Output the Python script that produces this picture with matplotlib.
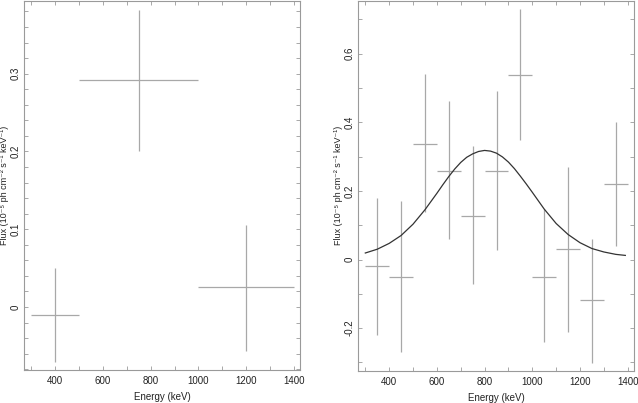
import matplotlib
matplotlib.use("Agg")
import matplotlib.pyplot as plt
from matplotlib.ticker import MultipleLocator, FuncFormatter

plt.rcParams['font.family'] = ['Liberation Sans', 'DejaVu Sans']
plt.rcParams['font.size'] = 7
plt.rcParams['axes.unicode_minus'] = False

# left panel: three wide bins
left_lo = [300, 500, 1000]
left_hi = [500, 1000, 1400]
left_flux = [-0.010, 0.292, 0.026]
left_err_lo = [0.061, 0.091, 0.082]
left_err_hi = [0.060, 0.090, 0.079]

# right panel: 100 keV bins
right_lo = [300, 400, 500, 600, 700, 800, 900, 1000, 1100, 1200, 1300]
right_hi = [400, 500, 600, 700, 800, 900, 1000, 1100, 1200, 1300, 1400]
right_flux = [-0.020, -0.050, 0.338, 0.259, 0.128, 0.259, 0.539, -0.050, 0.030, -0.119, 0.219]
right_err_lo = [0.201, 0.221, 0.200, 0.200, 0.200, 0.230, 0.190, 0.191, 0.240, 0.182, 0.180]
right_err_hi = [0.200, 0.220, 0.202, 0.202, 0.202, 0.232, 0.190, 0.196, 0.240, 0.179, 0.181]

# model curve
model_e = [300, 350, 400, 450, 500, 550, 600, 625, 650, 675, 700, 725, 750, 775, 800,
           825, 850, 875, 900, 925, 950, 975, 1000, 1050, 1100, 1150, 1200, 1250,
           1300, 1350, 1390]
model_f = [0.019, 0.030, 0.047, 0.070, 0.103, 0.145, 0.193, 0.218, 0.242, 0.264, 0.283,
           0.298, 0.308, 0.315, 0.318, 0.316, 0.310, 0.299, 0.284, 0.265, 0.243, 0.220,
           0.196, 0.147, 0.105, 0.073, 0.049, 0.032, 0.022, 0.015, 0.012]

FRAME = '#9a9a9a'
BARS = '#a8a8a8'
TEXT = '#222222'
YLABEL = 'Flux (10⁻⁵ ph cm⁻² s⁻¹ keV⁻¹)'


def short_num(v, pos):
    v = round(v, 4)
    if v == 0:
        return '0'
    return f'{v:g}'


def draw_bins(ax, lo, hi, flux, elo, ehi):
    mid = [(a + b) / 2 for a, b in zip(lo, hi)]
    xerr = [[m - a for m, a in zip(mid, lo)], [b - m for m, b in zip(mid, hi)]]
    ax.errorbar(mid, flux, xerr=xerr, yerr=[elo, ehi], fmt='none',
                ecolor=BARS, elinewidth=0.9, capsize=0)


def style_axes(ax, ymaj, ymin):
    for s in ax.spines.values():
        s.set_color(FRAME)
        s.set_linewidth(0.8)
    ax.xaxis.set_major_locator(MultipleLocator(200))
    ax.xaxis.set_minor_locator(MultipleLocator(100))
    ax.yaxis.set_major_locator(MultipleLocator(ymaj))
    ax.yaxis.set_minor_locator(MultipleLocator(ymin))
    ax.yaxis.set_major_formatter(FuncFormatter(short_num))
    ax.tick_params(which='both', direction='in', top=True, right=True,
                   length=3, width=0.6, color=FRAME, labelcolor=TEXT,
                   labelsize=7)
    ax.tick_params(axis='y', pad=2.5)
    ax.tick_params(axis='x', pad=4)
    for lab in ax.get_yticklabels():
        lab.set_rotation(90)
        lab.set_va('center')
    ax.set_xlabel('Energy (keV)', color=TEXT, fontsize=7, va='center')
    ax.set_ylabel(YLABEL, color=TEXT, fontsize=6.5, va='center')
    ax.xaxis.set_label_coords(0.5, -0.073)
    ax.yaxis.set_label_coords(-0.072, 0.5)


fig = plt.figure(figsize=(6.38, 4.03), dpi=100)
ax1 = fig.add_axes([0.0376, 0.0819, 0.4326, 0.9168])
ax2 = fig.add_axes([0.561, 0.0794, 0.4326, 0.9193])

draw_bins(ax1, left_lo, left_hi, left_flux, left_err_lo, left_err_hi)
ax1.set_xlim(270, 1425)
ax1.set_ylim(-0.081, 0.394)
style_axes(ax1, 0.1, 0.02)

draw_bins(ax2, right_lo, right_hi, right_flux, right_err_lo, right_err_hi)
ax2.plot(model_e, model_f, color='#333333', lw=0.9)
ax2.set_xlim(269, 1426)
ax2.set_ylim(-0.325, 0.755)
style_axes(ax2, 0.2, 0.1)

fig.savefig('out.png', dpi=100)
